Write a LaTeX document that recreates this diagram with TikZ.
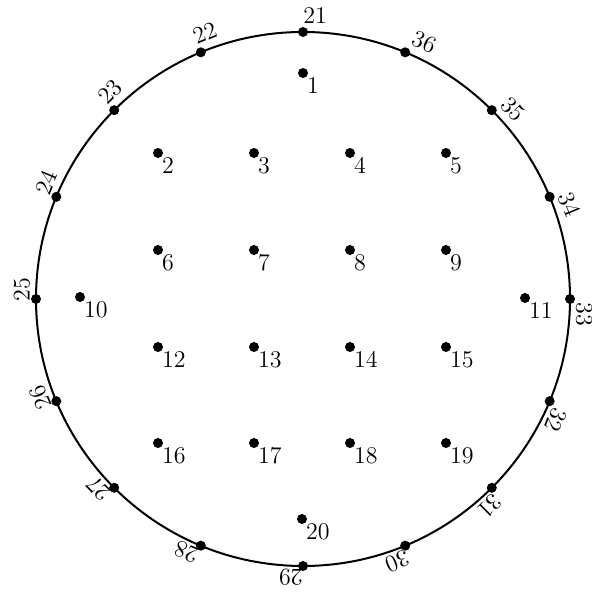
\documentclass[tikz,border=0pt]{standalone}
\usepackage{tikz}
\usetikzlibrary{positioning,calc}

\begin{document}
\begin{tikzpicture}[x=0.5pt,y=0.5pt,
  dot/.style={circle,fill=black,inner sep=0pt,minimum size=5pt},
  inlab/.style={font=\large,inner sep=0pt,label distance=0pt},
  rimlab/.style={font=\large,inner sep=0pt,anchor=south west,label distance=1.5pt}]
  \useasboundingbox (0,0) rectangle (591,598);
  \coordinate (c) at (303,299);
  \draw[line width=1pt] (c) circle[radius=267];
  % points on the rim
  \foreach \n in {21,...,36}{
    \pgfmathsetmacro\ang{90+22.5*(\n-21)}
    \node[dot,label={[rimlab,rotate=\ang-90]\ang:\n}] (p\n) at ([shift={(\ang:267)}]c) {};
  }
  % points inside
  \foreach \n/\x/\y in {1/303/525,
      2/158/445, 3/254/445, 4/350/445, 5/446/445,
      6/158/348, 7/254/348, 8/350/348, 9/446/348,
      10/80/301, 11/525/300,
      12/158/251, 13/254/251, 14/350/251, 15/446/251,
      16/158/155, 17/254/155, 18/350/155, 19/446/155,
      20/302/79}
    \node[dot,label={[inlab]-45:\n}] (p\n) at (\x,\y) {};
\end{tikzpicture}
\end{document}
